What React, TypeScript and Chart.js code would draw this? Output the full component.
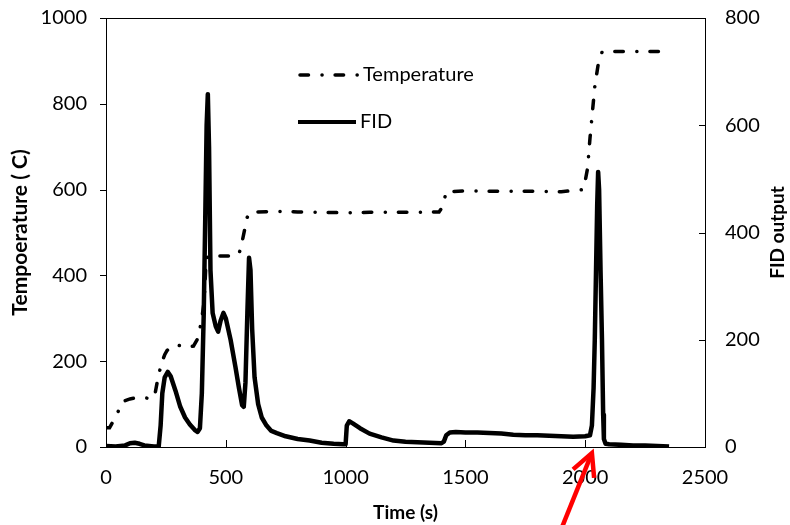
import React, { useEffect, useRef } from "react";
import { Chart, registerables } from "chart.js";

Chart.register(...registerables);

// ---- Data ----
const xTickValues = [0, 500, 1000, 1500, 2000, 2500];
const leftTickValues = [0, 200, 400, 600, 800, 1000];
const rightTickValues = [0, 200, 400, 600, 800];

const tempTime = [
  0, 15, 25, 35, 50, 65, 80, 100, 130, 160, 190, 205, 215, 225, 235, 245, 255, 270, 290, 320, 350, 365,
  380, 390, 400, 410, 418, 430, 480, 530, 555, 565, 578, 588, 600, 630, 700, 800, 900, 1000, 1100, 1200,
  1300, 1390, 1405, 1420, 1500, 1600, 1700, 1800, 1900, 1990, 2000, 2010, 2020, 2030, 2040, 2055, 2070,
  2100, 2200, 2300, 2355,
];
const tempValues = [
  45, 45, 55, 65, 82, 100, 108, 112, 115, 115, 112, 125, 155, 180, 200, 215, 225, 232, 238, 235, 234, 235,
  250, 270, 300, 340, 440, 445, 445, 445, 450, 470, 505, 534, 545, 548, 549, 548, 547, 546, 547, 547,
  547, 548, 560, 595, 597, 596, 596, 596, 595, 600, 620, 650, 720, 780, 840, 895, 920,
  922, 922, 922, 922,
];

const fidTime = [
  0, 40, 80, 100, 120, 140, 160, 200, 220, 228, 235, 245, 258, 270, 290, 310, 330, 350, 370, 382, 392,
  400, 408, 415, 420, 425, 430, 436, 445, 458, 468, 478, 490, 500, 520, 540, 555, 568, 575, 582, 590,
  597, 603, 610, 620, 635, 650, 670, 690, 713, 750, 800, 850, 900, 950, 990, 1000, 1005, 1015, 1030,
  1060, 1100, 1150, 1200, 1250, 1300, 1350, 1400, 1410, 1420, 1435, 1460, 1500, 1550, 1600, 1650, 1700,
  1750, 1800, 1850, 1900, 1950, 2000, 2020, 2028, 2035, 2040, 2045, 2050, 2054, 2058, 2064, 2070, 2075,
  2078, 2085, 2100, 2150, 2200, 2250, 2300, 2350,
];
const fidValues = [
  2, 1, 3, 7, 8, 6, 3, 1, 1, 40, 100, 130, 140, 132, 105, 75, 55, 42, 32, 28, 35,
  100, 250, 450, 600, 658, 560, 330, 250, 225, 215, 235, 250, 240, 200, 150, 110, 78, 75, 120, 250,
  353, 330, 220, 130, 80, 55, 40, 30, 26, 20, 15, 12, 8, 6, 5, 5, 40, 48, 44,
  35, 25, 18, 12, 10, 9, 8, 7, 10, 22, 27, 28, 27, 27, 26, 25, 23,
  22, 22, 21, 20, 19, 20, 22, 40, 110, 200, 325, 450, 513, 480, 330, 200, 60,
  15, 6, 5, 4, 3, 3, 2, 1,
];

const legendLabels = ["Temperature", "FID"];
const xTitle = "Time (s)";
const leftTitle = "Tempoerature ( C)";
const rightTitle = "FID output";
const arrowTime = 2028;

const FONT = "Lato, 'Open Sans', 'Liberation Sans', sans-serif";
const TEMP_DASH = [8.5, 13.5, 0.1, 13];

const decorPlugin = {
  id: "decor",
  beforeDatasetsDraw(chart: any) {
    const { ctx, chartArea: a, scales } = chart;
    ctx.save();
    ctx.strokeStyle = "#000";
    ctx.lineWidth = 1;
    ctx.strokeRect(Math.round(a.left) + 0.5, Math.round(a.top) + 0.5, Math.round(a.right - a.left), Math.round(a.bottom - a.top));
    ctx.beginPath();
    for (const v of leftTickValues) {
      const y = Math.round(scales.y.getPixelForValue(v)) + 0.5;
      ctx.moveTo(a.left - 6, y);
      ctx.lineTo(a.left, y);
    }
    for (const v of rightTickValues) {
      const y = Math.round(scales.y1.getPixelForValue(v)) + 0.5;
      ctx.moveTo(a.right - 6, y);
      ctx.lineTo(a.right, y);
    }
    for (const v of xTickValues) {
      const x = Math.round(scales.x.getPixelForValue(v)) + 0.5;
      ctx.moveTo(x, a.bottom - 7);
      ctx.lineTo(x, a.bottom);
    }
    ctx.stroke();
    ctx.restore();
  },
  afterDraw(chart: any) {
    const { ctx, chartArea: a, scales } = chart;
    ctx.save();
    // legend
    const lx = a.left + 192;
    const ly1 = a.top + 57;
    const ly2 = a.top + 104;
    ctx.strokeStyle = "#000";
    ctx.lineWidth = 3.5;
    ctx.lineCap = "round";
    ctx.setLineDash(TEMP_DASH);
    ctx.beginPath();
    ctx.moveTo(lx + 2, ly1);
    ctx.lineTo(lx + 60, ly1);
    ctx.stroke();
    ctx.setLineDash([]);
    ctx.lineCap = "butt";
    ctx.lineWidth = 4;
    ctx.beginPath();
    ctx.moveTo(lx, ly2);
    ctx.lineTo(lx + 58, ly2);
    ctx.stroke();
    ctx.fillStyle = "#000";
    ctx.font = `20px ${FONT}`;
    ctx.textBaseline = "middle";
    ctx.textAlign = "left";
    ctx.fillText(legendLabels[0], lx + 65, ly1);
    ctx.fillText(legendLabels[1], lx + 62, ly2);

    // right title
    ctx.save();
    ctx.translate(778, (a.top + a.bottom) / 2);
    ctx.rotate(-Math.PI / 2);
    ctx.font = `bold 19px ${FONT}`;
    ctx.textAlign = "center";
    ctx.textBaseline = "middle";
    ctx.fillText(rightTitle, 0, 0);
    ctx.restore();

    // red arrow
    const tipX = scales.x.getPixelForValue(arrowTime);
    const tipY = a.bottom + 6;
    const ang = Math.atan2(72, -29);
    const len = 90;
    ctx.strokeStyle = "#ff0000";
    ctx.lineWidth = 4.5;
    ctx.lineCap = "butt";
    ctx.beginPath();
    ctx.moveTo(tipX + 2 * Math.cos(ang), tipY + 2 * Math.sin(ang));
    ctx.lineTo(tipX + len * Math.cos(ang), tipY + len * Math.sin(ang));
    ctx.stroke();
    const wing = 25;
    const spread = (27 * Math.PI) / 180;
    ctx.beginPath();
    ctx.moveTo(tipX + wing * Math.cos(ang + spread), tipY + wing * Math.sin(ang + spread));
    ctx.lineTo(tipX, tipY);
    ctx.lineTo(tipX + wing * Math.cos(ang - spread), tipY + wing * Math.sin(ang - spread));
    ctx.lineJoin = "miter";
    ctx.stroke();
    ctx.restore();
  },
};

export default function App() {
  const canvasRef = useRef<HTMLCanvasElement | null>(null);

  useEffect(() => {
    document.body.style.margin = "0";
    const canvas = canvasRef.current;
    if (!canvas) return;
    const tempData = tempTime.map((t, i) => ({ x: t, y: tempValues[i] }));
    const fidData = fidTime.map((t, i) => ({ x: t, y: fidValues[i] }));
    const tickFont = { family: FONT, size: 20 };
    const titleFont = { family: FONT, size: 19, weight: "bold" as const };
    const leftTitleFont = { family: FONT, size: 21, weight: "bold" as const };
    const plain = (v: any) => String(v);

    const chart = new Chart(canvas, {
      type: "line",
      data: {
        datasets: [
          {
            label: legendLabels[0],
            data: tempData,
            yAxisID: "y",
            borderColor: "#000",
            borderWidth: 3.5,
            borderDash: TEMP_DASH,
            borderCapStyle: "round",
            pointRadius: 0,
            tension: 0,
            fill: false,
          },
          {
            label: legendLabels[1],
            data: fidData,
            yAxisID: "y1",
            borderColor: "#000",
            borderWidth: 4.5,
            borderJoinStyle: "round",
            pointRadius: 0,
            tension: 0,
            fill: false,
          },
        ],
      },
      options: {
        responsive: false,
        animation: false,
        devicePixelRatio: 1,
        layout: { padding: { top: 18, left: 0, right: 0, bottom: 0 } },
        plugins: { legend: { display: false }, tooltip: { enabled: false } },
        scales: {
          x: {
            type: "linear",
            min: 0,
            max: 2500,
            afterBuildTicks: (s: any) => {
              s.ticks = xTickValues.map((v) => ({ value: v }));
            },
            afterFit: (s: any) => {
              s.height = 78;
              s.paddingLeft = 0;
              s.paddingRight = 0;
            },
            grid: { display: false, drawTicks: false },
            border: { display: false },
            ticks: { font: tickFont, color: "#000", padding: 19, maxRotation: 0, callback: plain },
            title: { display: true, text: xTitle, font: titleFont, color: "#000", padding: { top: 0, bottom: 1 } },
          },
          y: {
            type: "linear",
            position: "left",
            min: 0,
            max: 1000,
            afterBuildTicks: (s: any) => {
              s.ticks = leftTickValues.map((v) => ({ value: v }));
            },
            afterFit: (s: any) => {
              s.width = 106;
              s.paddingTop = 0;
              s.paddingBottom = 0;
            },
            grid: { display: false, drawTicks: false },
            border: { display: false },
            ticks: { font: tickFont, color: "#000", padding: 19, callback: plain },
            title: { display: true, text: leftTitle, font: leftTitleFont, color: "#000", padding: { top: 8, bottom: 0 } },
          },
          y1: {
            type: "linear",
            position: "right",
            min: 0,
            max: 800,
            afterBuildTicks: (s: any) => {
              s.ticks = rightTickValues.map((v) => ({ value: v }));
            },
            afterFit: (s: any) => {
              s.width = 85;
              s.paddingTop = 0;
              s.paddingBottom = 0;
            },
            grid: { display: false, drawTicks: false },
            border: { display: false },
            ticks: { font: tickFont, color: "#000", padding: 20, callback: plain },
          },
        },
      },
      plugins: [decorPlugin],
    });
    return () => chart.destroy();
  }, []);

  return (
    <div style={{ position: "absolute", left: 0, top: 0, width: 790, height: 525, background: "#fff" }}>
      <canvas ref={canvasRef} width={790} height={525} />
    </div>
  );
}
